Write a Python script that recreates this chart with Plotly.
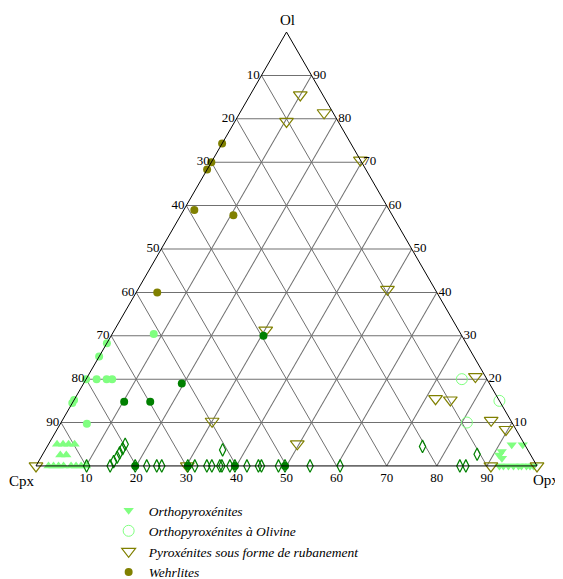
import plotly.graph_objects as go

# compositions in % (Ol, Opx); Cpx is the rest
orthopx_ol = [4.9, 4.9, 3.3, 2.5, 1.8, 0, 0, 0, 0, 0, 0, 0, 0, 0]
orthopx_opx = [92.5, 94.7, 91.3, 91.2, 92.1, 92.5, 93.3, 94.3, 95.3, 96.3, 96.9, 97.9, 98.6, 99.3]

orthopx_olv_ol = [20, 15, 10]
orthopx_olv_opx = [75, 85, 81]

ruban_ol = [85.5, 79.4, 81.4, 70.5, 40.7, 31.3, 20.6, 15.5, 15.2, 10.5, 8.4, 10.3, 5.1, 0, 0, 0, 0]
ruban_opx = [10, 10.3, 16.8, 29.5, 49.8, 30.2, 77.4, 72, 75.1, 85.6, 89.6, 30, 49.6, 30.2, 0, 90.8, 100]

wehrl_ol = [74.3, 70, 68.3, 59, 57.8, 40]
wehrl_opx = [0, 0, 0, 2.1, 10.5, 4.2]

clinopx_ol = [5, 5, 5, 5, 2.5, 2.5, 0, 0, 0, 0, 0, 0, 0, 0]
clinopx_opx = [1.7, 2.9, 4.0, 5.2, 3.6, 4.8, 2.5, 3.5, 4.5, 5.5, 7.0, 8.0, 9.0, 10.0]

clinopx_olv_ol = [30.4, 28.3, 25.2, 20, 20, 20, 20, 15.2, 14.5, 9.7]
clinopx_olv_opx = [8.3, 0, 0, 0, 2.1, 4.1, 5.2, 0, 0, 5.3]

webst_olv_ol = [30, 19, 14.8, 14.8, 0, 0, 0, 0]
webst_olv_opx = [30.4, 19.6, 10.2, 15.4, 19.8, 30.3, 39.7, 49.7]

webst_ol = [0, 0, 0, 0, 0, 0, 0, 0, 0, 0, 0, 0, 0, 0, 0, 0, 0, 0, 0, 0, 0, 0, 0,
            1, 2, 3, 4, 5, 3.7, 4.5, 2.7]
webst_opx = [10.1, 14.8, 19.8, 22.1, 24.1, 25.1, 30.3, 31.7, 34.1, 35.1, 36.7, 37.1, 38.7,
             39.7, 42.1, 44.4, 45, 48.4, 49.7, 54.7, 60.7, 84.6, 85.8,
             15, 15.2, 15.2, 15.3, 15.3, 35.4, 74.9, 86.7]

ticks = [10, 20, 30, 40, 50, 60, 70, 80, 90]
tick_text = [str(100 - t) for t in ticks]

LIGHT = "#80FF80"
OLIVE = "#808000"
DARK = "#008000"


def cpx(ol, opx):
    return [100 - a - c for a, c in zip(ol, opx)]


fig = go.Figure()

series = [
    ("Orthopyroxénites", orthopx_ol, orthopx_opx, dict(symbol="triangle-down", size=9, color=LIGHT), True),
    ("Orthopyroxénites à Olivine", orthopx_olv_ol, orthopx_olv_opx,
     dict(symbol="circle-open", size=11, color=LIGHT, line=dict(width=1)), True),
    ("Pyroxénites sous forme de rubanement", ruban_ol, ruban_opx,
     dict(symbol="triangle-down-open", size=12, color=OLIVE, line=dict(width=1.2)), True),
    ("Wehrlites", wehrl_ol, wehrl_opx, dict(symbol="circle", size=8, color=OLIVE), True),
    ("Clinopyroxénites", clinopx_ol, clinopx_opx, dict(symbol="triangle-up", size=9, color=LIGHT), False),
    ("Clinopyroxénites à Olivine", clinopx_olv_ol, clinopx_olv_opx, dict(symbol="circle", size=8, color=LIGHT), False),
    ("Websterites", webst_ol, webst_opx,
     dict(symbol="diamond-tall-open", size=9, color=DARK, line=dict(width=1.2)), False),
    ("Websterites à Olivine", webst_olv_ol, webst_olv_opx, dict(symbol="circle", size=8, color=DARK), False),
]

for name, ol, opx, marker, legend in series:
    fig.add_trace(go.Scatterternary(
        a=ol, b=cpx(ol, opx), c=opx, mode="markers", name=name,
        marker=marker, showlegend=legend, cliponaxis=False))

axis_common = dict(
    tickmode="array", tickvals=ticks, ticktext=tick_text, ticks="",
    showgrid=True, gridcolor="#707070", gridwidth=1,
    linecolor="black", linewidth=1, min=0, title=dict(text=""),
    tickfont=dict(family="Liberation Serif", size=13, color="black"),
)

# corner names as annotations so they sit close to the vertices
corner_font = dict(family="Liberation Serif", size=15, color="black")
corners = [
    dict(text="Ol", x=0.501, y=1.022),
    dict(text="Cpx", x=-0.028, y=0.179),
    dict(text="Opx", x=1.018, y=0.181),
]

# the page body adds an 8px offset, so the figure is made 8px smaller
fig.update_layout(
    width=555, height=571,
    margin=dict(l=28, r=26, t=24, b=0, autoexpand=False),
    paper_bgcolor="white",
    font=dict(family="Liberation Serif", color="black"),
    ternary=dict(
        sum=100,
        bgcolor="white",
        domain=dict(x=[0, 1], y=[0.2066, 1]),
        aaxis=axis_common,
        baxis=axis_common,
        caxis=axis_common,
    ),
    annotations=[dict(xref="paper", yref="paper", showarrow=False, xanchor="center",
                      yanchor="middle", font=corner_font, **c) for c in corners],
    legend=dict(
        x=0.145, y=0.1536, xanchor="left", yanchor="top",
        font=dict(family="Liberation Serif", size=13.5, style="italic"),
        bgcolor="rgba(0,0,0,0)", tracegroupgap=0, itemsizing="trace",
    ),
)

fig.write_html("out.html")
